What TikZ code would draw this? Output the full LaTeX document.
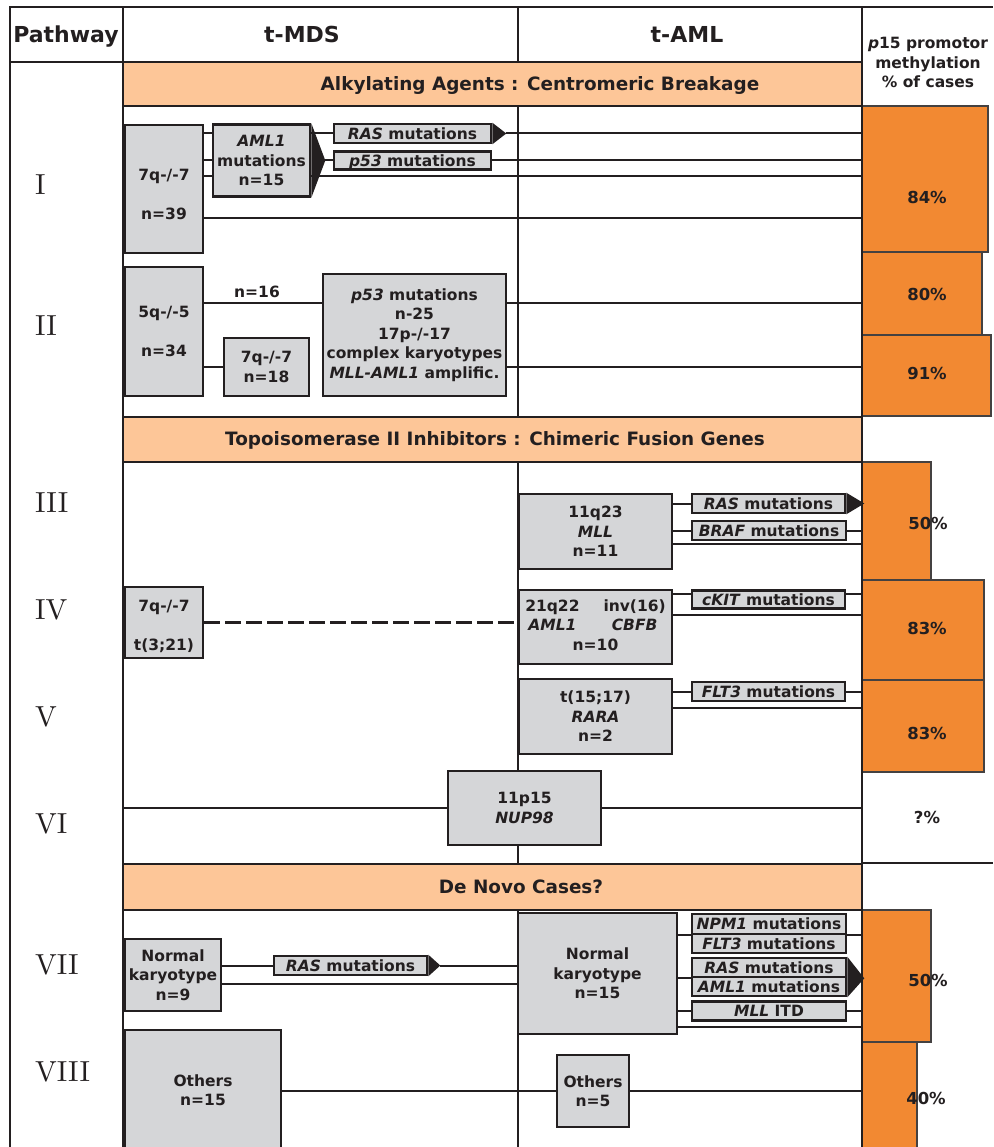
\documentclass[tikz,border=0pt]{standalone}
\usepackage{fontspec}
\usepackage{tikz}
\newfontfamily\dejavu{DejaVu Sans}
\newfontfamily\lmten{lmroman10-regular}[Extension=.otf]
\definecolor{inkc}{RGB}{35,31,32}
\definecolor{boxc}{RGB}{213,214,216}
\definecolor{bannerc}{RGB}{253,198,152}
\definecolor{barc}{RGB}{242,137,50}

\tikzset{
  frameline/.style={draw=inkc, line width=2.5pt},
  link/.style={draw=inkc, line width=2pt},
  gbox/.style={draw=inkc, fill=boxc, line width=2.6pt, inner sep=0pt, text=inkc, align=center,
    font=\dejavu\bfseries\fontsize{15.5}{19.5}\selectfont},
  mutbox/.style={gbox, minimum width=154, minimum height=19, text height=11.3, text depth=0},
  banner/.style={draw=inkc, fill=bannerc, line width=1.5pt},
  bannertext/.style={anchor=base, text=inkc, font=\dejavu\bfseries\fontsize{18.4}{22}\selectfont},
  headtext/.style={anchor=base, text=inkc, font=\dejavu\bfseries\fontsize{22}{26}\selectfont},
  note/.style={text=inkc, align=center, inner sep=0pt, font=\dejavu\bfseries\fontsize{15.5}{19.5}\selectfont},
  pbar/.style={draw=inkc!85, fill=barc, line width=1.5pt},
  tipfill/.style={fill=inkc},
  pct/.style={text=inkc, inner sep=0pt, font=\dejavu\bfseries\fontsize{16.5}{19}\selectfont},
  pnum/.style={anchor=west, text=inkc, inner sep=0pt, font=\lmten\fontsize{29}{31}\selectfont}
}

\begin{document}
\begin{tikzpicture}[x=1pt,y=1pt,yscale=-1,xscale=1]
\useasboundingbox (0,0) rectangle (993,1147);
\coordinate (pcol) at (862,0);
\coordinate (pathcol) at (123,0);

%Shape: Rectangle (methylation bars)
\draw[pbar] (862,106) rectangle (988,252);
\draw[pbar] (862,252) rectangle (982,335);
\draw[pbar] (862,335) rectangle (991,416);
\draw[pbar] (862,462) rectangle (931,580);
\draw[pbar] (862,580) rectangle (984,680);
\draw[pbar] (862,680) rectangle (984,772);
\draw[pbar] (862,910) rectangle (931,1042);
\draw[pbar] (862,1042) rectangle (917,1160);

%Straight Lines (table frame)
\draw[frameline] (10,1150) -- (10,7) -- (993,7);
\draw[frameline] (10,62) -- (123,62);
\draw[frameline] (123,7) -- (123,1150);
\draw[frameline] (518,7) -- (518,1150);
\draw[frameline] (862,7) -- (862,1150);
\draw[frameline] (862,863) -- (993,863);

%Shape: Rectangle (banners)
\draw[banner] (123,62) rectangle (862,106);
\draw[banner] (123,417) rectangle (862,462);
\draw[banner] (123,864) rectangle (862,910);

% Text Node
\node[headtext] (hpath) at (66,43) {Pathway};
\node[headtext] (hmds) at (302,43) {t-MDS};
\node[headtext] (haml) at (687,43) {t-AML};
\node[note] (hp15) at (928,62.5) {\textit{p}15 promotor\\methylation\\\% of cases};
% Text Node
\node[bannertext] (alkyl) at (540,91) {Alkylating Agents : Centromeric Breakage};
\node[bannertext] (topo) at (495,445) {Topoisomerase II Inhibitors : Chimeric Fusion Genes};
\node[bannertext] (denovo) at (521,893) {De Novo Cases?};
% Text Node
\node[pnum] (pI) at (35,185) {I};
\node[pnum] (pII) at (35,326) {II};
\node[pnum] (pIII) at (35,503) {III};
\node[pnum] (pIV) at (35,610) {IV};
\node[pnum] (pV) at (35,717) {V};
\node[pnum] (pVI) at (35,824) {VI};
\node[pnum] (pVII) at (35,965) {VII};
\node[pnum] (pVIII) at (35,1072) {VIII};

%Pathway I
\node[gbox, minimum width=78, minimum height=128] (i7q) at (164,189) {\rule{0pt}{21.5pt}7q-/-7\\[19.5pt]n=39};
\node[gbox, minimum width=97, minimum height=72] (iaml) at (261.5,160.5) {\textit{AML1}\\mutations\\n=15};
\node[mutbox, minimum width=157] (iras) at (412.5,133.5) {\textit{RAS} mutations};
\node[mutbox, minimum width=157, minimum height=18] (ip53) at (412.5,160.5) {\textit{p53} mutations};
\draw[link] (i7q.east |- iras.west) -- (iaml.west |- iras.west);
\draw[link] (iaml.east |- iras.west) -- (iras.west);
\draw[link] ([xshift=14pt]iras.east) -- (iras.east -| pcol);
\draw[link] (i7q.east |- ip53.west) -- (iaml.west |- ip53.west);
\draw[link] ([xshift=14pt]iaml.east) -- (ip53.west);
\draw[link] (ip53.east) -- (ip53.east -| pcol);
\draw[link] (i7q.east |- 0,176) -- (iaml.west |- 0,176);
\draw[link] (iaml.east |- 0,176) -- (pcol |- 0,176);
\draw[link] (i7q.east |- 0,218) -- (pcol |- 0,218);
\fill[tipfill] (iaml.north east) -- ([xshift=14pt]iaml.east) -- (iaml.south east) -- cycle;
\fill[tipfill] (iras.north east) -- ([xshift=14pt]iras.east) -- (iras.south east) -- cycle;

%Pathway II
\node[gbox, minimum width=78, minimum height=129] (ii5q) at (164,331.5) {5q-/-5\\[19.5pt]n=34};
\node[gbox, minimum width=85, minimum height=58] (ii7q) at (266.5,367) {7q-/-7\\n=18};
\node[gbox, minimum width=183, minimum height=122] (iip53) at (414.5,335) {\textit{p53} mutations\\n-25\\17p-/-17\\complex karyotypes\\\textit{MLL-AML1} amplific.};
\node[note] (n16) at (257,292) {n=16};
\draw[link] (ii5q.east |- 0,303) -- (iip53.west |- 0,303);
\draw[link] (iip53.east |- 0,303) -- (pcol |- 0,303);
\draw[link] (ii5q.east |- ii7q.west) -- (ii7q.west);
\draw[link] (iip53.east |- ii7q.west) -- (pcol |- ii7q.west);

%Pathway III
\node[gbox, minimum width=153, minimum height=75] (iii11) at (595.5,531.5) {11q23\\\textit{MLL}\\n=11};
\node[mutbox, minimum width=153] (iiiras) at (768.5,503.5) {\textit{RAS} mutations};
\node[mutbox] (iiibraf) at (769,530.5) {\textit{BRAF} mutations};
\draw[link] (iii11.east |- iiiras.west) -- (iiiras.west);
\draw[link] (iii11.east |- iiibraf.west) -- (iiibraf.west);
\draw[link] (iiibraf.east) -- (iiibraf.east -| pcol);
\draw[link] (iii11.east |- 0,544) -- (pcol |- 0,544);
\fill[tipfill] (iiiras.north east) -- ([xshift=18pt]iiiras.east) -- (iiiras.south east) -- cycle;

%Pathway IV
\node[gbox, minimum width=78, minimum height=71] (iv7q) at (164,622.5) {\rule{0pt}{18.5pt}7q-/-7\\[19.5pt]t(3;21)};
\node[gbox, minimum width=153, minimum height=74] (iv21) at (595.5,627) {\begin{tabular}{@{}c@{\hspace{24pt}}c@{}}21q22&inv(16)\\\textit{AML1}&\textit{CBFB}\\\multicolumn{2}{c}{n=10}\end{tabular}};
\node[mutbox, minimum width=153, minimum height=18] (ivkit) at (768.5,599.5) {\textit{cKIT} mutations};
\draw[link, line width=2.6pt, dash pattern=on 16pt off 5pt] (iv7q.east) -- (iv21.west |- iv7q.east);
\draw[link] (iv21.east |- 0,594) -- (ivkit.west |- 0,594);
\draw[link] (ivkit.east |- 0,594) -- (pcol |- 0,594);
\draw[link] (iv21.east |- 0,615) -- (pcol |- 0,615);

%Pathway V
\node[gbox, minimum width=153, minimum height=75] (v15) at (595.5,716.5) {t(15;17)\\\textit{RARA}\\n=2};
\node[mutbox, minimum width=153] (vflt) at (768.5,691.5) {\textit{FLT3} mutations};
\draw[link] (v15.east |- vflt.west) -- (vflt.west);
\draw[link] (vflt.east) -- (vflt.east -| pcol);
\draw[link] (v15.east |- 0,708) -- (pcol |- 0,708);

%Pathway VI
\node[gbox, minimum width=153, minimum height=74] (vi11) at (524.5,808) {11p15\\\textit{NUP98}};
\draw[link] (pathcol |- vi11.west) -- (vi11.west);
\draw[link] (vi11.east) -- (vi11.east -| pcol);

%Pathway VII
\node[gbox, minimum width=96, minimum height=72] (vii9) at (173,975) {Normal\\karyotype\\n=9};
\node[mutbox, minimum width=153] (viiras) at (350.5,965.5) {\textit{RAS} mutations};
\node[gbox, minimum width=159, minimum height=121] (vii15) at (597.5,973.5) {Normal\\karyotype\\n=15};
\node[mutbox, minimum height=20] (npm) at (769,924) {\textit{NPM1} mutations};
\node[mutbox] (flt) at (769,943.5) {\textit{FLT3} mutations};
\node[mutbox] (ras2) at (769,967.5) {\textit{RAS} mutations};
\node[mutbox] (aml2) at (769,986.5) {\textit{AML1} mutations};
\node[mutbox] (mll) at (769,1011) {\textit{MLL} ITD};
\draw[link] (vii9.east |- viiras.west) -- (viiras.west);
\draw[link] ([xshift=12pt]viiras.east) -- (vii15.west |- viiras.east);
\draw[link] (vii9.east |- 0,984) -- (vii15.west |- 0,984);
\draw[link] (vii15.east |- npm.south) -- (npm.south west);
\draw[link] (npm.south east) -- (npm.south -| pcol);
\draw[link] (vii15.east |- ras2.south) -- (ras2.south west);
\draw[link] (vii15.east |- mll.west) -- (mll.west);
\draw[link] (mll.east) -- (mll.east -| pcol);
\draw[link] (vii15.east |- 0,1027) -- (pcol |- 0,1027);
\fill[tipfill] (viiras.north east) -- ([xshift=12pt]viiras.east) -- (viiras.south east) -- cycle;
\fill[tipfill] (ras2.north east) -- ([xshift=17pt]ras2.south east) -- (aml2.south east) -- cycle;

%Pathway VIII
\node[gbox, minimum width=156, minimum height=120] (viii15) at (203,1090) {Others\\n=15};
\node[gbox, minimum width=72, minimum height=72] (viii5) at (593,1091) {Others\\n=5};
\draw[link] (viii15.east |- viii5.west) -- (viii5.west);
\draw[link] (viii5.east) -- (viii5.east -| pcol);

% Text Node (methylation)
\node[pct] (q84) at (927,197) {84\%};
\node[pct] (q80) at (927,294) {80\%};
\node[pct] (q91) at (927,373) {91\%};
\node[pct] (q50a) at (928,523) {50\%};
\node[pct] (q83a) at (927,628) {83\%};
\node[pct] (q83b) at (927,733) {83\%};
\node[pct] (qnone) at (927,817) {?\%};
\node[pct] (q50b) at (928,980) {50\%};
\node[pct] (q40) at (926,1098) {40\%};

\end{tikzpicture}
\end{document}
